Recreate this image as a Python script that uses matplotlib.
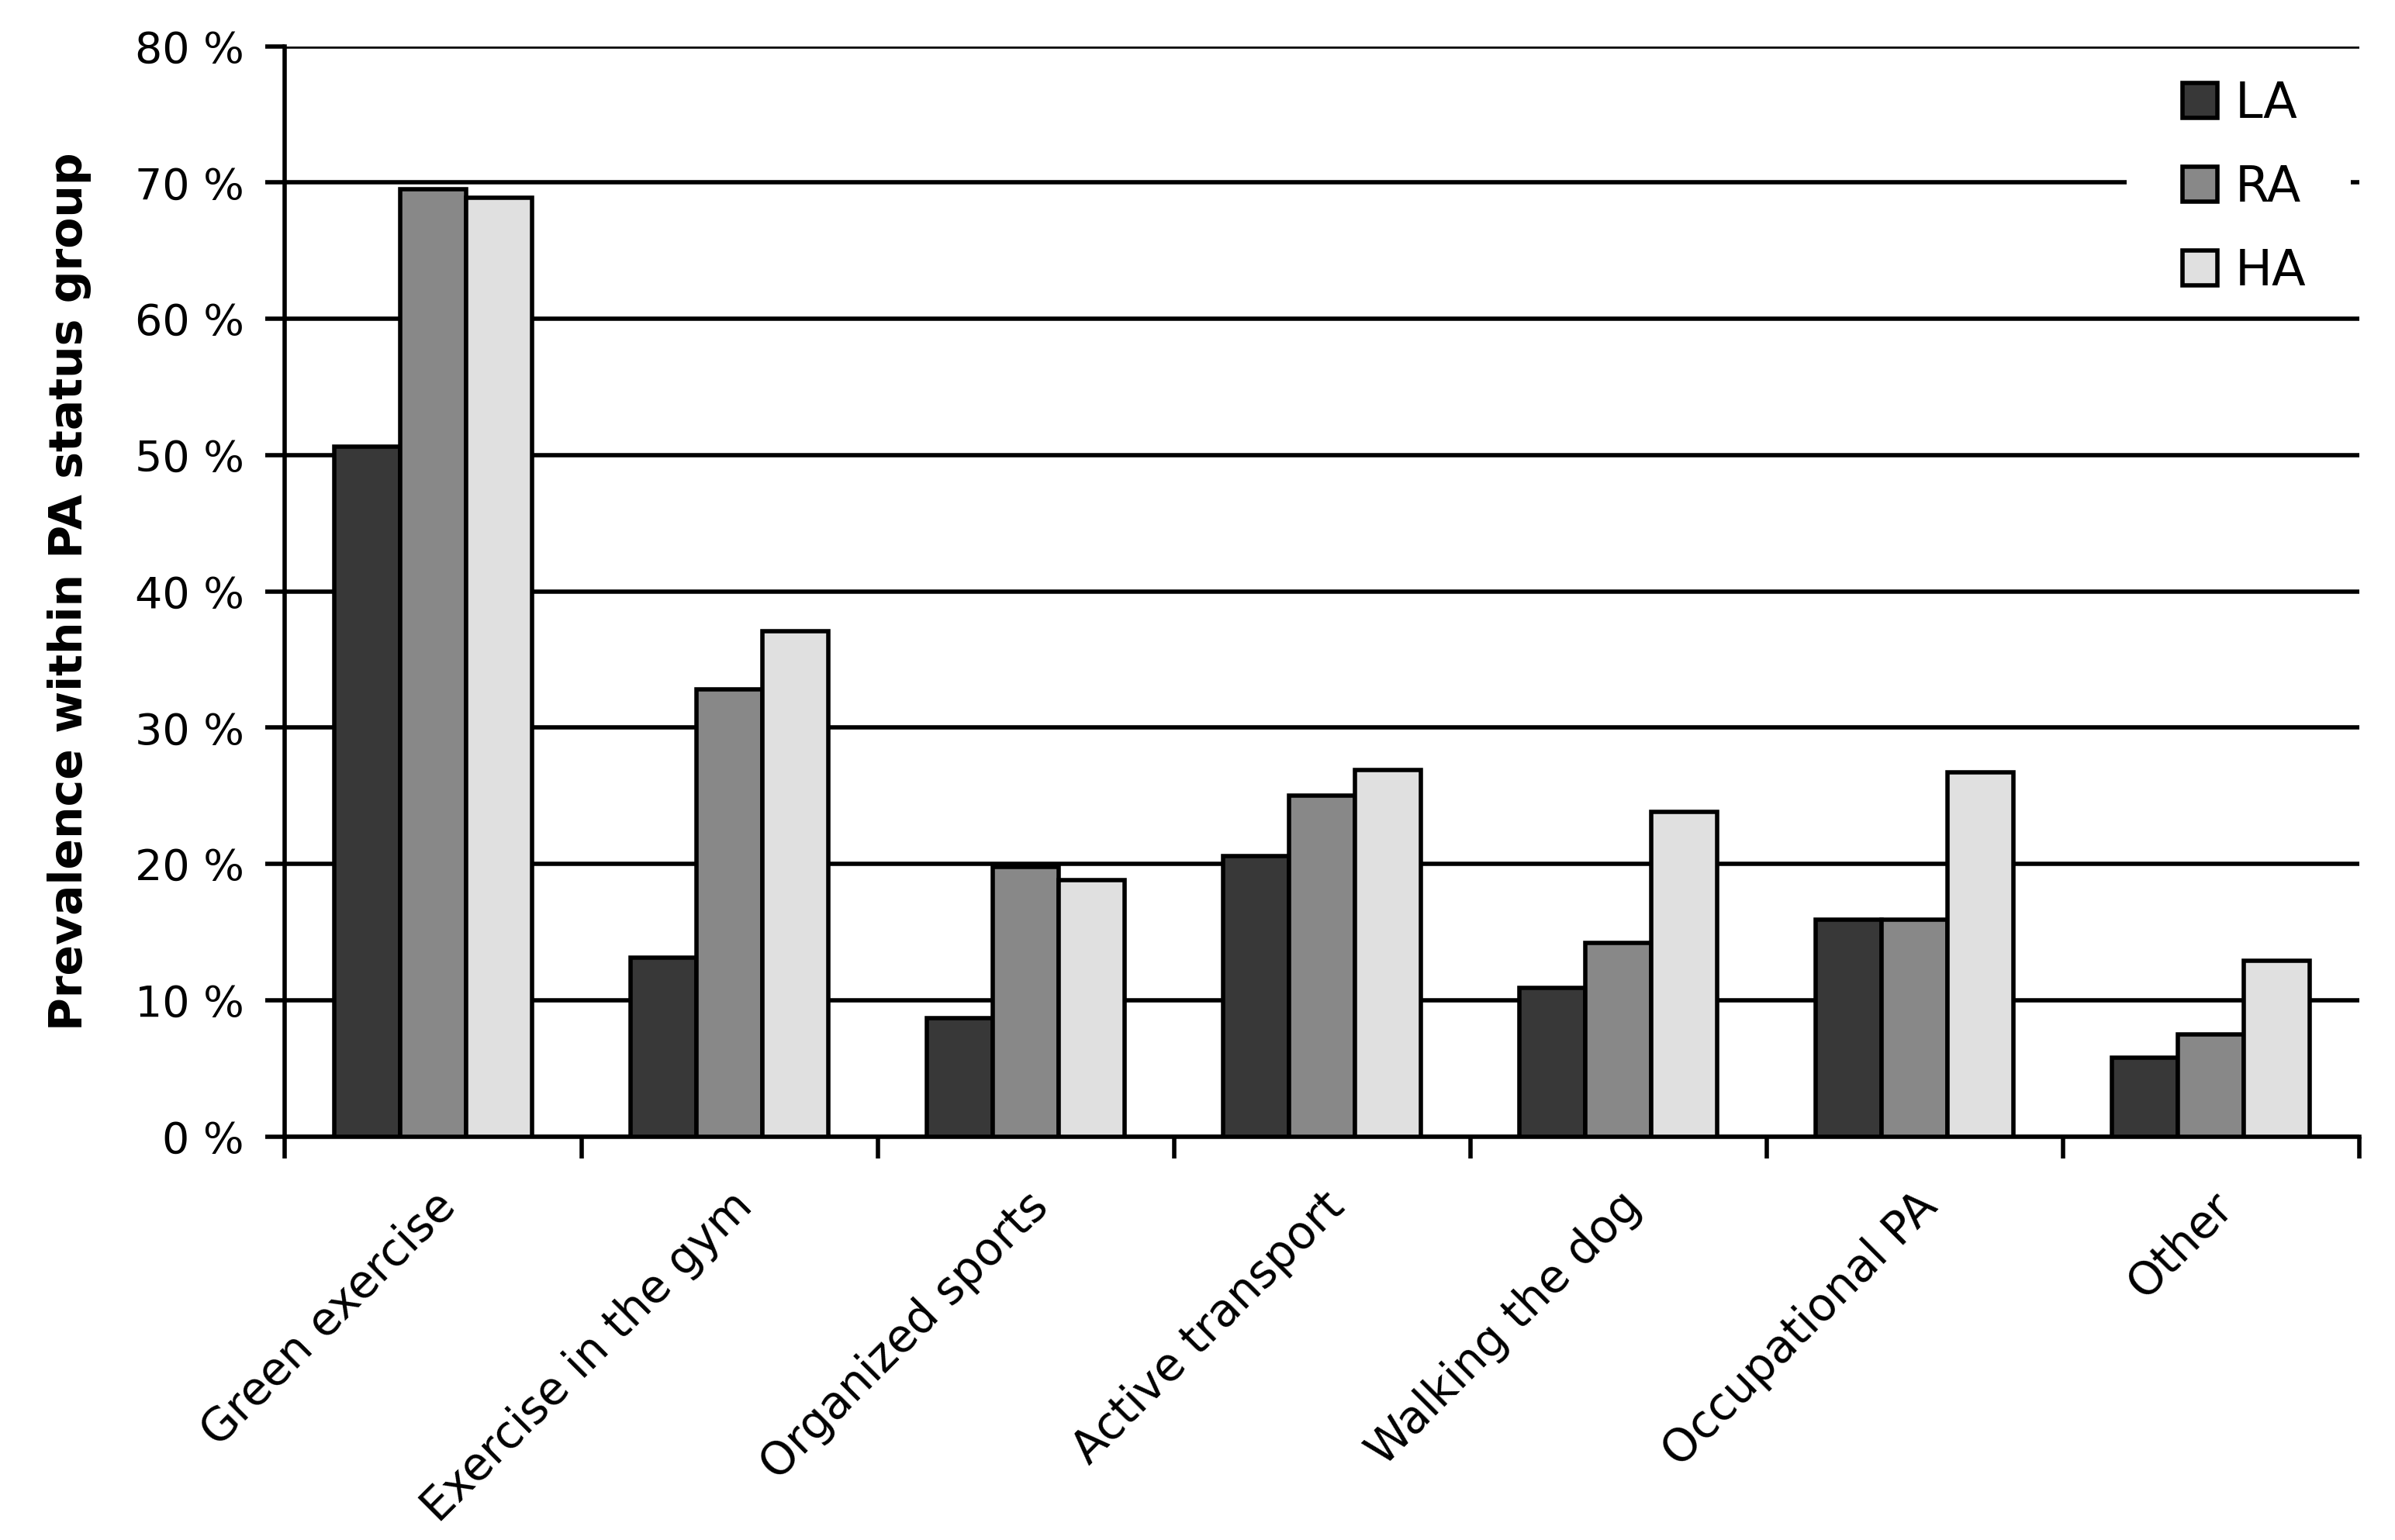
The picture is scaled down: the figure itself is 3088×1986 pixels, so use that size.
import numpy as np
import matplotlib.pyplot as plt
from matplotlib.ticker import FixedLocator
from matplotlib.patches import Rectangle

# 数据
categories = ['Green exercise', 'Exercise in the gym', 'Organized sports',
              'Active transport', 'Walking the dog', 'Occupational PA', 'Other']
la = [50.6, 13.1, 8.7, 20.6, 10.9, 15.9, 5.8]
ra = [69.5, 32.8, 19.8, 25.0, 14.2, 15.9, 7.5]
ha = [68.9, 37.1, 18.8, 26.9, 23.8, 26.7, 12.9]
series_names = ['LA', 'RA', 'HA']
yticks = [0, 10, 20, 30, 40, 50, 60, 70, 80]

plt.rcParams['font.family'] = ['DejaVu Sans']

fig = plt.figure(figsize=(15.44, 9.93), dpi=200)
ax = fig.add_axes([0.119, 0.262, 0.866, 0.708])

x = np.arange(len(categories))
w = 0.223
colors = ['#383838', '#888888', '#e0e0e0']

for i, (vals, c, name) in enumerate(zip([la, ra, ha], colors, series_names)):
    ax.bar(x + (i - 1) * w, vals, width=w, color=c, edgecolor='black',
           linewidth=2.0, label=name, zorder=3)

ax.set_xlim(-0.5, len(categories) - 0.5)
ax.set_ylim(0, 80)
ax.set_yticks(yticks)
ax.set_yticklabels([f'{t} %' for t in yticks], fontsize=20)
ax.yaxis.grid(True, color='black', linewidth=2, zorder=0)
ax.set_axisbelow(True)

# x 轴：标签在类别中心，刻度线在类别边界
ax.set_xticks(x)
ax.set_xticklabels(categories, rotation=45, ha='right', rotation_mode='anchor', fontsize=21)
ax.tick_params(axis='x', which='major', length=0, pad=22)
ax.xaxis.set_minor_locator(FixedLocator(np.arange(len(categories) + 1) - 0.5))
ax.tick_params(axis='x', which='minor', length=10, width=2, direction='out')
ax.tick_params(axis='y', length=9, width=2, direction='out', pad=10)

for s in ['top', 'right']:
    ax.spines[s].set_visible(False)
for s in ['left', 'bottom']:
    ax.spines[s].set_linewidth(2)

ax.set_ylabel('Prevalence within PA status group', fontsize=21, fontweight='bold', labelpad=20)

# 图例的白色背景块（遮住 70% 网格线）
ax.add_patch(Rectangle((0.888, 0.775), 0.108, 0.2, transform=ax.transAxes,
                       facecolor='white', edgecolor='none', zorder=4))

leg = ax.legend(loc='upper left', bbox_to_anchor=(0.915, 0.969), fontsize=23,
                frameon=False, handlelength=0.7, handleheight=0.7, handletextpad=0.35,
                labelspacing=0.72, borderpad=0, borderaxespad=0)
leg.set_zorder(5)

fig.savefig('out.png', dpi=200)
